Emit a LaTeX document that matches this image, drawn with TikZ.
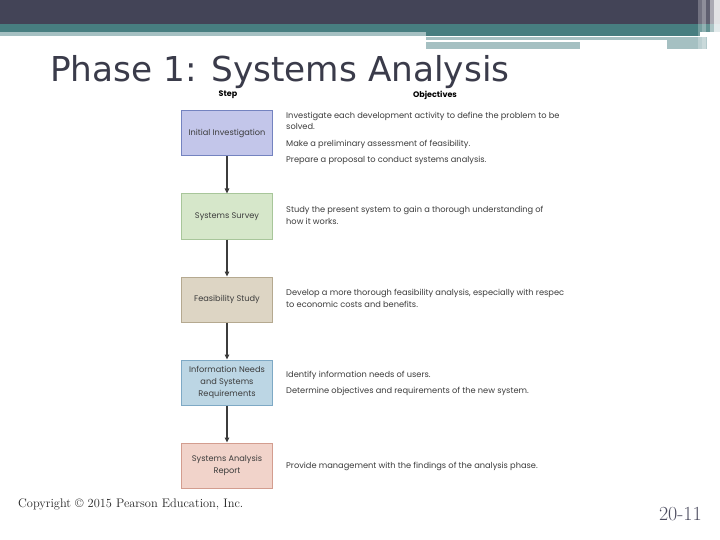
\documentclass[tikz,border=0pt]{standalone}
\usepackage{fontspec}
\usetikzlibrary{arrows.meta}
\newfontfamily\titlefont{DejaVu Sans}
\newfontfamily\figfont{Poppins}
\definecolor{hdark}{HTML}{434457}
\definecolor{hteal}{HTML}{477E80}
\definecolor{hlight}{HTML}{A5C0C2}
\definecolor{titlec}{HTML}{3A3B4A}
\definecolor{fillA}{HTML}{C3C6EA}\definecolor{drawA}{HTML}{7483C0}
\definecolor{fillB}{HTML}{D6E7CA}\definecolor{drawB}{HTML}{A8C69A}
\definecolor{fillC}{HTML}{DDD5C4}\definecolor{drawC}{HTML}{B5A990}
\definecolor{fillD}{HTML}{BCD6E4}\definecolor{drawD}{HTML}{7EA9C5}
\definecolor{fillE}{HTML}{F1D3CA}\definecolor{drawE}{HTML}{D39D8F}
\definecolor{txt}{HTML}{3C3C3C}
\definecolor{pagec}{HTML}{4B4B5E}
\tikzset{
  stepbox/.style={draw, line width=1pt, minimum width=91pt, minimum height=45pt,
    align=center, inner sep=1pt, text=txt, font=\figfont\fontsize{8.2}{12.2}\selectfont},
  objtext/.style={anchor=base west, inner sep=0pt, text=txt, font=\figfont\fontsize{8.25}{10}\selectfont},
  headtext/.style={inner sep=0pt, text=black, font=\figfont\bfseries\fontsize{8}{9}\selectfont},
  flow/.style={-{Triangle[length=5pt,width=4.5pt]}, line width=1.2pt, draw=txt}
}
\begin{document}
\begin{tikzpicture}[x=1pt,y=-1pt]
\useasboundingbox (0,0) rectangle (720,540);
\fill[white] (0,0) rectangle (720,540);
% header bands
\fill[hdark] (0,0) rectangle (720,24);
\fill[hteal] (0,24) rectangle (720,32);
\fill[hlight] (0,32) rectangle (426,36);
\fill[hteal] (426,32) rectangle (700,36);
\fill[hlight] (426,37) rectangle (707,40);
\fill[hlight] (667,40) rectangle (707,49);
\fill[hlight] (426,42) rectangle (580,49);
% right vertical stripes
\fill[white,opacity=0.25] (698,0) rectangle (702,49);
\fill[white,opacity=0.40] (702,0) rectangle (706,49);
\fill[white,opacity=0.15] (706,0) rectangle (710,49);
\fill[white,opacity=0.55] (710,0) rectangle (714,49);
\fill[white,opacity=0.85] (714,0) rectangle (720,49);
% title
\node[anchor=base west, inner sep=0pt, text=titlec, font=\titlefont\fontsize{34.3}{34}\selectfont] (title) at (50,82) {Phase 1: Systems Analysis};
% column heads
\node[headtext] (step) at (228,95) {Step};
\node[headtext] (obj) at (435,95) {Objectives};
% boxes
\node[stepbox, fill=fillA, draw=drawA] (b1) at (227,133.5) {Initial Investigation};
\node[stepbox, fill=fillB, draw=drawB] (b2) at (227,216.5) {Systems Survey};
\node[stepbox, fill=fillC, draw=drawC] (b3) at (227,299.5) {Feasibility Study};
\node[stepbox, fill=fillD, draw=drawD] (b4) at (227,382.5) {Information Needs\\and Systems\\Requirements};
\node[stepbox, fill=fillE, draw=drawE] (b5) at (227,465.5) {Systems Analysis\\Report};
% connectors
\draw[flow] (b1) -- (b2);
\draw[flow] (b2) -- (b3);
\draw[flow] (b3) -- (b4);
\draw[flow] (b4) -- (b5);
% objectives
\node[objtext] (o1a) at (286,118.5) {Investigate each development activity to define the problem to be};
\node[objtext] (o1b) at (286,130) {solved.};
\node[objtext] (o1c) at (286,146.5) {Make a preliminary assessment of feasibility.};
\node[objtext] (o1d) at (286,163) {Prepare a proposal to conduct systems analysis.};
\node[objtext] (o2a) at (286,213) {Study the present system to gain a thorough understanding of};
\node[objtext] (o2b) at (286,224.5) {how it works.};
\node[objtext] (o3a) at (286,295.5) {Develop a more thorough feasibility analysis, especially with respec};
\node[objtext] (o3b) at (286,307) {to economic costs and benefits.};
\node[objtext] (o4a) at (286,377) {Identify information needs of users.};
\node[objtext] (o4b) at (286,393) {Determine objectives and requirements of the new system.};
\node[objtext] (o5a) at (286,468) {Provide management with the findings of the analysis phase.};
% footer
\node[anchor=base west, inner sep=0pt, text=black!85, font=\fontsize{12.4}{13}\selectfont] (copy) at (18,507) {Copyright \textcopyright{} \oldstylenums{2015} Pearson Education, Inc.};
\node[anchor=base east, inner sep=0pt, text=pagec, font=\fontsize{20}{20}\selectfont] (page) at (702,520) {\oldstylenums{20-11}};
\end{tikzpicture}
\end{document}
